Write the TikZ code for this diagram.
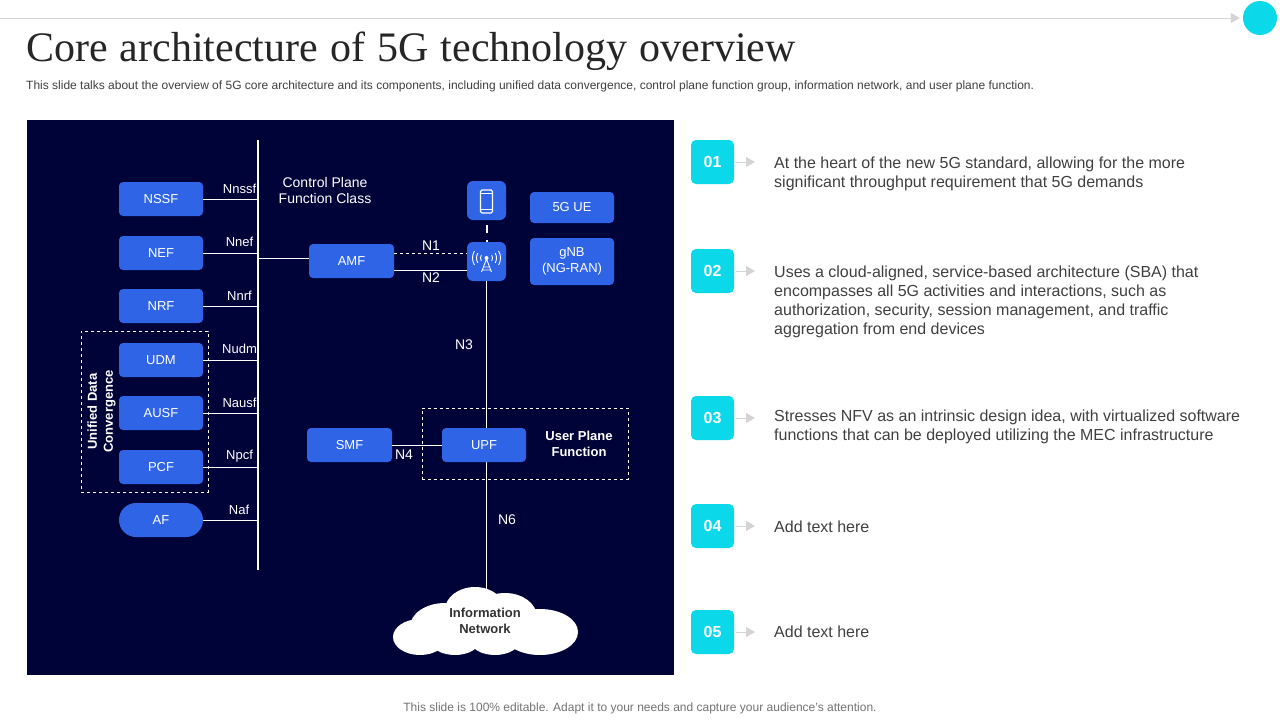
\documentclass[tikz,border=0pt]{standalone}
\usepackage{fontspec}
\setmainfont{Liberation Sans}
\newfontfamily\titlefont{Liberation Serif}
\usetikzlibrary{arrows.meta,positioning}
\definecolor{panelnavy}{HTML}{000338}
\definecolor{boxblue}{HTML}{2F64E6}
\definecolor{badgecyan}{HTML}{0BD8E8}
\definecolor{bodygrey}{HTML}{404040}
\definecolor{tipgrey}{HTML}{D4D4D4}
\tikzset{
	bluebox/.style={draw=none,fill=boxblue,rounded corners=4pt,text=white,font=\fontsize{13}{16}\selectfont,align=center,inner sep=0pt},
	portlabel/.style={text=white,font=\fontsize{13}{15}\selectfont,inner sep=0pt},
	linklabel/.style={text=white,font=\fontsize{14}{16}\selectfont,inner sep=0pt},
	wire/.style={white,line width=1pt},
	buswire/.style={white,line width=1.8pt},
	groupbox/.style={draw=white,dashed,line width=0.8pt,inner sep=0pt},
	badge/.style={fill=badgecyan,rounded corners=5pt,text=white,font=\bfseries\fontsize{16}{18}\selectfont,minimum width=43pt,minimum height=44pt,inner sep=0pt},
	bodytext/.style={anchor=west,text=bodygrey,font=\fontsize{16}{19}\selectfont,align=left,inner sep=0pt},
	pointer/.style={-{Stealth[length=9pt,width=10pt,inset=0pt]},draw=tipgrey,line width=0.8pt}
}
\begin{document}
\begin{tikzpicture}[x=1pt,y=-1pt]
	\useasboundingbox (0,0) rectangle (1280,720);
	\fill[white] (0,0) rectangle (1280,720);

	\node[circle,fill=badgecyan,minimum size=34pt,inner sep=0pt](Dot) at (1260,18){};
	\coordinate (Rule) at (0,18);
	\draw[pointer,shorten >=3pt] (Rule) -- (Dot.west);

	\node[anchor=west,inner sep=0pt,text=black!85,font=\titlefont\fontsize{42}{46}\selectfont](Title) at (26,51){\spaceskip=12.1pt Core architecture of 5G technology overview};
	\node[anchor=west,inner sep=0pt,text=bodygrey,font=\fontsize{12}{14}\selectfont](Lead) at (26,86){This slide talks about the overview of 5G core architecture and its components, including unified data convergence, control plane function group, information network, and user plane function.};
	\node[inner sep=0pt,text=black!55,font=\fontsize{12}{14}\selectfont](Foot) at (640,708.5){This slide is 100\% editable. Adapt it to your needs and capture your audience's attention.};

	\fill[panelnavy] (27,120) rectangle (674,675);

	\coordinate (BusTop) at (258,140);
	\coordinate (BusEnd) at (258,570);
	\draw[buswire] (BusTop) -- (BusEnd);

	\foreach \name/\y/\lab/\ly [count=\n] in
		{NSSF/199/Nnssf/189,NEF/253/Nnef/242,NRF/306/Nnrf/296,UDM/360/Nudm/349,AUSF/413/Nausf/403,PCF/467/Npcf/456}
	{
		\node[bluebox,minimum width=84pt,minimum height=34pt](F\n) at (161,\y){\name};
		\draw[wire] (F\n.east) -- (F\n.east -| BusTop);
		\node[portlabel](L\n) at (239.5,\ly){\lab};
	}
	\node[bluebox,rounded corners=17pt,minimum width=84pt,minimum height=34pt](F7) at (161,520){AF};
	\draw[wire] (F7.east) -- (F7.east -| BusTop);
	\node[portlabel](L7) at (239,510){Naf};

	\node[groupbox,minimum width=127pt,minimum height=161pt](Group) at (144.5,411.5){};
	\node[rotate=90,text=white,align=center,inner sep=0pt,font=\bfseries\fontsize{13}{16}\selectfont](GroupText) at (101.5,411.5){Unified Data\\Convergence};

	\node[text=white,align=center,inner sep=0pt,font=\fontsize{14}{16}\selectfont](Ctrl) at (325,190){Control Plane\\Function Class};

	\node[bluebox,minimum width=85pt,minimum height=34pt](AMF) at (351.5,261){AMF};
	\node[bluebox,rounded corners=6pt,minimum size=39pt](Phone) at (486.5,200.5){};
	\node[bluebox,minimum width=84pt,minimum height=31pt](UE) at (572,207.5){5G UE};
	\node[bluebox,minimum width=84pt,minimum height=47pt](gNB) at (572,261.5){gNB\\(NG-RAN)};

	\fill[white] (420,637) ellipse (27 and 18);
	\fill[white] (445,627) ellipse (35 and 24);
	\fill[white] (475,610) ellipse (30 and 23);
	\fill[white] (505,617) ellipse (32 and 24);
	\fill[white] (540,632) ellipse (38 and 23);
	\fill[white] (455,640) ellipse (25 and 15);
	\fill[white] (495,640) ellipse (25 and 15);
	\node[text=bodygrey!80!black,align=center,inner sep=0pt,font=\bfseries\fontsize{13}{16}\selectfont](Info) at (485,621){Information\\Network};
	\coordinate (CloudTop) at (486.5,590);

	\node[bluebox,rounded corners=6pt,minimum size=39pt](Mast) at (486.5,261.5){};
	\draw[buswire] (Mast.south) -- (CloudTop);
	\node[bluebox,minimum width=85pt,minimum height=34pt](SMF) at (349.5,445){SMF};
	\node[bluebox,minimum width=84pt,minimum height=34pt](UPF) at (484,445){UPF};

	\draw[white,line width=1.3pt,rounded corners=1.5pt] (480.5,190) rectangle (492.5,213);
	\draw[white,line width=0.9pt] (480.5,193) -- (492.5,193) (480.5,209.5) -- (492.5,209.5);

	\fill[white] (486.5,258) circle (2pt);
	\draw[white,line width=0.9pt] (486.5,259) -- (481.5,272) (486.5,259) -- (491.5,272) (483.5,267) -- (489.5,267) (482.5,270) -- (490.5,270);
	\foreach \r in {6,10,14}{
		\draw[white,line width=0.9pt] (486.5,258)++(150:\r) arc (150:210:\r);
		\draw[white,line width=0.9pt] (486.5,258)++(30:\r) arc (30:-30:\r);
	}

	\draw[wire] (BusTop |- 0,258) -- (AMF.west |- 0,258);
	\draw[white,dashed,line width=0.8pt] (AMF.east |- 0,253) -- (Mast.west |- 0,253);
	\draw[wire] (AMF.east |- 0,270) -- (Mast.west |- 0,270);
	\draw[white,line width=2pt,dash pattern=on 8pt off 7pt] (Phone.south) ++(0,5) -- (Mast.north);
	\draw[wire] (SMF.east) -- (UPF.west);

	\node[groupbox,minimum width=206pt,minimum height=71pt](PlaneBox) at (525,443.5){};
	\node[text=white,align=center,inner sep=0pt,font=\bfseries\fontsize{13}{16}\selectfont](Plane) at (579,444){User Plane\\Function};

	\node[linklabel](N1) at (431,246){N1};
	\node[linklabel](N2) at (431,278){N2};
	\node[linklabel](N3) at (464,345){N3};
	\node[linklabel](N4) at (404,455){N4};
	\node[linklabel](N6) at (507,520){N6};

	\foreach \y/\ty/\txt [count=\n] in
		{162/174/{At the heart of the new 5G standard, allowing for the more\\significant throughput  requirement that 5G demands},
		 271/302/{Uses a cloud-aligned, service-based architecture (SBA) that\\encompasses all 5G activities and interactions, such as\\authorization, security, session management, and traffic\\aggregation from end devices},
		 418/427/{Stresses NFV as an intrinsic design idea, with virtualized software\\functions that can be deployed utilizing the MEC infrastructure},
		 526/527/{Add text here},
		 632/632/{Add text here}}
	{
		\node[badge](B\n) at (712.5,\y){0\n};
		\node[bodytext](T\n) at (774,\ty){\txt};
		\coordinate (A\n) at (755,\y);
		\draw[pointer] (B\n.east) ++(2,0) -- (A\n);
	}
\end{tikzpicture}
\end{document}
